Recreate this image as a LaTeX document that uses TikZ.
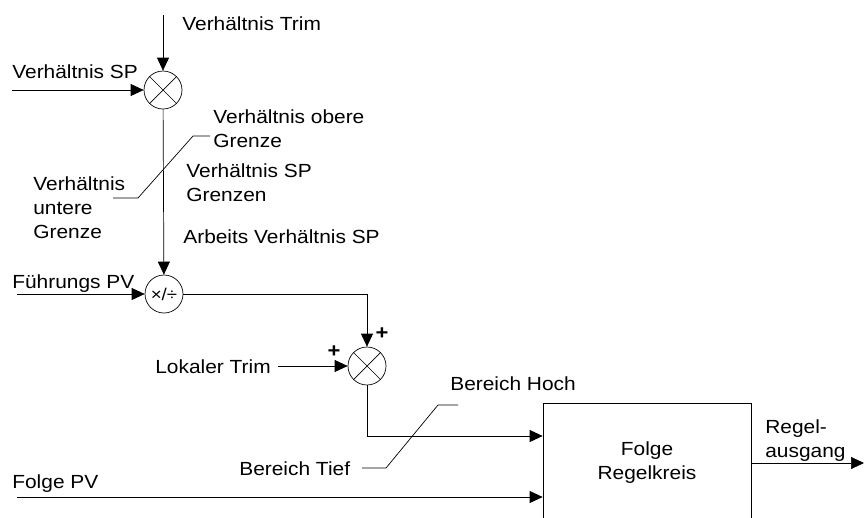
\documentclass[tikz,border=0pt]{standalone}
\usepackage{fontspec}
\setmainfont[FakeStretch=1.1]{Liberation Sans}
\usetikzlibrary{arrows.meta}

\begin{document}
\begin{tikzpicture}[x=1pt,y=-1pt,line width=0.7pt,
  every node/.style={font=\fontsize{19}{24}\selectfont},
  sig/.style={-{Triangle[length=13pt,width=12pt]}},
  junc/.style={draw,circle,minimum size=38pt,inner sep=0pt},
  lbl/.style={anchor=base west,inner sep=0pt,align=left}]
  \useasboundingbox (0,0) rectangle (864,517);
  \clip (0,0) rectangle (864,517);
  % junctions and block
  \node[junc] (mulA) at (163,90) {};
  \draw (mulA.45)--(mulA.225) (mulA.135)--(mulA.315);
  \node[junc,font=\fontsize{17}{17}\selectfont] (mulB) at (164,294) {×/÷};
  \node[junc] (sumC) at (367,366) {};
  \draw (sumC.45)--(sumC.225) (sumC.135)--(sumC.315);
  \node[draw,minimum width=208pt,minimum height=120pt,align=center] (folge) at (647,463) {Folge\\Regelkreis};
  % free ends
  \coordinate (trimIn) at (163,15);
  \coordinate (spIn) at (12,90);
  \coordinate (fuehrIn) at (17,294);
  \coordinate (lokIn) at (278,366);
  \coordinate (folgeIn) at (17,497);
  \coordinate (outEnd) at (864,463);
  % signals
  \draw[sig] (trimIn) -- (mulA);
  \draw[sig] (spIn) -- (mulA.west);
  \draw[sig] (mulA) -- (mulB);
  \draw[sig] (fuehrIn) -- (mulB.west);
  \draw[sig] (mulB.east) -| (sumC.north);
  \draw[sig] (lokIn) -- (sumC.west);
  \draw[sig] (sumC.south) |- ([yshift=27pt]folge.west);
  \draw[sig] (folgeIn) -- (folgeIn -| folge.west);
  \draw[sig] (folge.east) -- (outEnd);
  % limit leaders
  \draw (113,198) -- (138,198) -- (193,136) -- (210,136);
  \draw (362,468) -- (386,468) -- (438,405) -- (458,405);
  % labels
  \node[lbl] (lTrim) at (182,30) {Verhältnis Trim};
  \node[lbl] (lSP) at (12,78) {Verhältnis SP};
  \node[lbl] (lOben) at (213,147) {Verhältnis obere\\Grenze};
  \node[lbl] (lGrenzen) at (186,201) {Verhältnis SP\\Grenzen};
  \node[lbl] (lUnten) at (33,238) {Verhältnis\\untere\\Grenze};
  \node[lbl] (lArbeit) at (183,243) {Arbeits Verhältnis SP};
  \node[lbl] (lFuehr) at (12,288) {Führungs PV};
  \node[lbl] (lLok) at (155,373) {Lokaler Trim};
  \node[lbl] (lTief) at (239,475) {Bereich Tief};
  \node[lbl] (lFolge) at (12,488) {Folge PV};
  \node[lbl] (lHoch) at (450,390) {Bereich Hoch};
  \node[lbl] (lAus) at (765,457) {Regel-\\ausgang};
  \node[font=\bfseries\fontsize{20}{20}\selectfont] (pTop) at (382,334) {+};
  \node[font=\bfseries\fontsize{20}{20}\selectfont] (pLeft) at (334,352) {+};
\end{tikzpicture}
\end{document}
